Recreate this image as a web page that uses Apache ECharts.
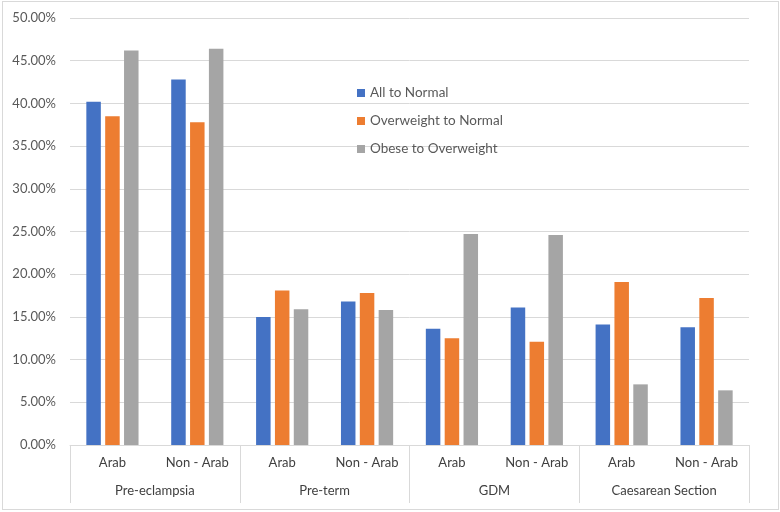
<!DOCTYPE html>
<html>
<head>
<meta charset="utf-8">
<script src="https://cdn.jsdelivr.net/npm/echarts@6/dist/echarts.min.js"></script>
<style>
html,body{margin:0;padding:0;background:#fff;}
#frame{position:absolute;left:2px;top:1px;width:775px;height:507px;border:1px solid #d9d9d9;}
#chart{position:absolute;left:0;top:0;width:780px;height:512px;}
</style>
</head>
<body>
<div id="frame"></div>
<div id="chart"></div>
<script>
const subCategories = ['Arab','Non - Arab','Arab','Non - Arab','Arab','Non - Arab','Arab','Non - Arab'];
const groups = ['Pre-eclampsia','Pre-term','GDM','Caesarean Section'];
const seriesNames = ['All to Normal','Overweight to Normal','Obese to Overweight'];
const allToNormal = [0.402, 0.428, 0.150, 0.168, 0.136, 0.161, 0.141, 0.138];
const overweightToNormal = [0.385, 0.378, 0.181, 0.178, 0.125, 0.121, 0.191, 0.172];
const obeseToOverweight = [0.462, 0.464, 0.159, 0.158, 0.247, 0.246, 0.071, 0.064];
const colors = ['#4472C4','#ED7D31','#A5A5A5'];
const font = 'Lato, "Open Sans", sans-serif';

const chart = echarts.init(document.getElementById('chart'));
const values = [allToNormal, overweightToNormal, obeseToOverweight];
chart.setOption({
  animation: false,
  textStyle: {fontFamily: font},
  grid: {left: 70, right: 31, top: 18, bottom: 67, containLabel: false},
  legend: {
    orient: 'vertical', left: 352, top: 81,
    itemWidth: 8, itemHeight: 8, itemGap: 14,
    icon: 'rect',
    textStyle: {color: '#595959', fontSize: 13.5, fontFamily: font, lineHeight: 14},
    data: seriesNames
  },
  xAxis: [
    {
      type: 'category', data: subCategories,
      axisLine: {lineStyle: {color: '#d9d9d9'}},
      axisTick: {show: false},
      axisLabel: {color: '#404040', fontSize: 13, fontFamily: font, margin: 11, interval: 0}
    },
    {
      type: 'category', data: groups, position: 'bottom',
      axisLine: {show: false},
      axisTick: {show: true, length: 58, lineStyle: {color: '#d9d9d9'}},
      axisLabel: {color: '#404040', fontSize: 13, fontFamily: font, margin: 39, interval: 0},
      splitLine: {show: false}
    }
  ],
  yAxis: {
    type: 'value', min: 0, max: 0.5, interval: 0.05,
    axisLine: {show: false}, axisTick: {show: false},
    splitLine: {lineStyle: {color: '#d9d9d9'}},
    axisLabel: {color: '#595959', fontSize: 13, fontFamily: font, margin: 14,
      formatter: v => (v * 100).toFixed(2) + '%'}
  },
  series: seriesNames.map((n, i) => ({
    name: n, type: 'bar', xAxisIndex: 0, data: values[i],
    barWidth: 14.5, barGap: '30%',
    itemStyle: {color: colors[i]}
  }))
});
</script>
</body>
</html>
